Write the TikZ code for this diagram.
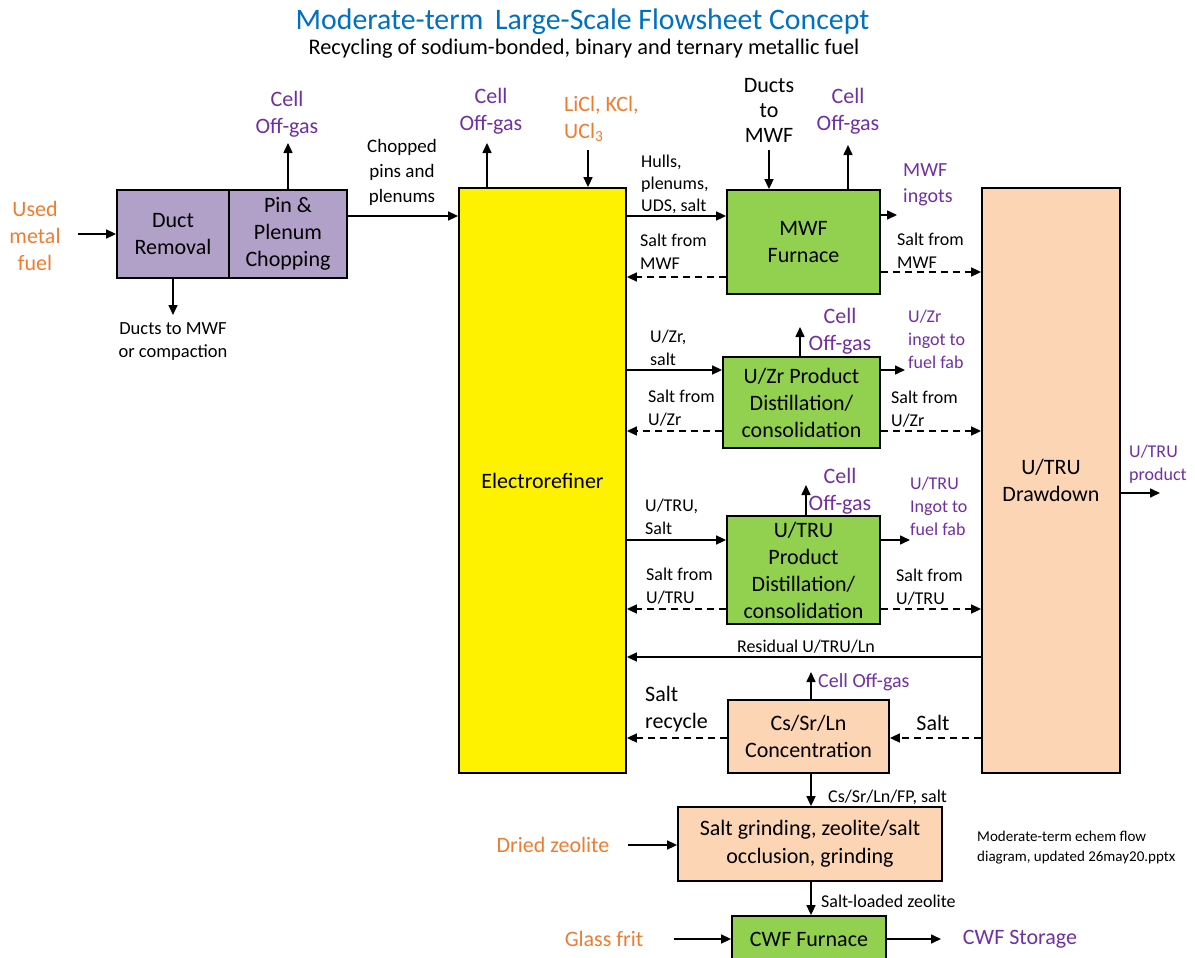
\documentclass[tikz,border=0pt]{standalone}
\usepackage{fontspec}
\setmainfont{Carlito}
\usetikzlibrary{arrows.meta}

\definecolor{ttlblue}{RGB}{0,112,192}
\definecolor{feedorange}{RGB}{237,125,49}
\definecolor{outpurple}{RGB}{112,48,160}
\definecolor{lilac}{RGB}{177,160,199}
\definecolor{leaf}{RGB}{146,208,80}
\definecolor{peach}{RGB}{252,213,180}

\newcommand\szTitle{\fontsize{29.8}{34}\selectfont}
\newcommand\szSub{\fontsize{22.3}{26}\selectfont}
\newcommand\szA{\fontsize{22}{27}\selectfont}
\newcommand\szAt{\fontsize{22}{25}\selectfont}
\newcommand\szP{\fontsize{20}{26}\selectfont}
\newcommand\szB{\fontsize{18}{23}\selectfont}
\newcommand\szNote{\fontsize{15}{20}\selectfont}

\begin{document}
\begin{tikzpicture}[x=1pt,y=-1pt,
  unit/.style={draw=black, line width=1.8pt, align=center, inner sep=0pt, font=\szA},
  flow/.style={line width=1.6pt, -{Triangle[length=10pt,width=9pt]}},
  back/.style={flow, dash pattern=on 7pt off 5pt},
  lbl/.style={align=left, inner sep=0pt, font=\szB},
  infeed/.style={text=feedorange, align=center, inner sep=0pt, font=\szA},
  product/.style={text=outpurple, align=center, inner sep=0pt, font=\szA},
  productsm/.style={text=outpurple, align=left, inner sep=0pt, font=\szB}]

\useasboundingbox (0,0) rectangle (1195,958);

% headings
\node[text=ttlblue, font=\szTitle, inner sep=0pt] (title) at (582.5,22) {Moderate-term\, Large-Scale Flowsheet Concept};
\node[font=\szSub, inner sep=0pt] (subtitle) at (584,49) {Recycling of sodium-bonded, binary and ternary metallic fuel};

% process units
\node[unit, fill=lilac, minimum width=112pt, minimum height=88pt] (duct) at (173,234) {Duct\\Removal};
\node[unit, fill=lilac, minimum width=118pt, minimum height=88pt] (pin) at (288,234) {Pin \&\\Plenum\\Chopping};
\node[unit, fill=yellow, minimum width=167pt, minimum height=585pt] (er) at (542.5,480.5) {Electrorefiner};
\node[unit, fill=leaf, minimum width=153pt, minimum height=104pt] (mwf) at (803.5,242) {MWF\\Furnace};
\node[unit, fill=leaf, minimum width=157pt, minimum height=91pt] (uzr) at (801.5,402.5) {U/Zr Product\\Distillation/\\consolidation};
\node[unit, fill=leaf, minimum width=153pt, minimum height=108pt] (utru) at (803.5,570) {U/TRU\\Product\\Distillation/\\consolidation};
\node[unit, fill=peach, minimum width=138pt, minimum height=585pt] (dd) at (1051,480.5) {U/TRU\\Drawdown};
\node[unit, fill=peach, minimum width=161pt, minimum height=73pt] (cs) at (808.5,736.5) {Cs/Sr/Ln\\Concentration};
\node[unit, fill=peach, minimum width=264pt, minimum height=74pt, font=\fontsize{22}{28}\selectfont] (grind) at (810,844) {Salt grinding, zeolite/salt\\occlusion, grinding};
\node[unit, fill=leaf, minimum width=154pt, minimum height=46pt] (cwf) at (809,939) {CWF Furnace};

% free ends of the streams
\coordinate (fuelin) at (78,234);
\coordinate (og1) at (288,143);
\coordinate (ductsout) at (173,315);
\coordinate (og2) at (487,143);
\coordinate (saltin) at (588,150);
\coordinate (ductin) at (769,150);
\coordinate (og3) at (848,145);
\coordinate (ingot1) at (897,215);
\coordinate (prod) at (1160,493);
\coordinate (og4) at (800,327);
\coordinate (ingot2) at (905,370);
\coordinate (og5) at (806,485);
\coordinate (ingot3) at (910,540);
\coordinate (og6) at (811,672);
\coordinate (zeo) at (628,845);
\coordinate (frit) at (674,939);
\coordinate (stor) at (941,939);

% head-end
\node[infeed] (fuellbl) at (35,236) {Used\\metal\\fuel};
\draw[flow] (fuelin) -- (duct.west);
\draw[flow] (pin.north) -- (og1);
\node[product] (og1lbl) at (287,114) {Cell\\Off-gas};
\draw[flow] (duct.south) -- (ductsout);
\node[lbl, align=center, font=\fontsize{18.5}{23}\selectfont] (ductslbl) at (173,342) {Ducts to MWF\\or compaction};
\draw[flow] (pin.east |- 0,216) -- (er.west |- 0,216);
\node[lbl, align=center, font=\fontsize{19}{25}\selectfont] (choplbl) at (402,172) {Chopped\\pins and\\plenums};

% electrorefiner top
\draw[flow] (er.north -| og2) -- (og2);
\node[product] (og2lbl) at (491,111) {Cell\\Off-gas};
\draw[flow] (saltin) -- (er.north -| saltin);
\node[text=feedorange, font=\szA, align=left, inner sep=0pt, anchor=west] (saltlbl) at (564,119) {LiCl, KCl,\\UCl\textsubscript{3}};

% metal waste furnace
\draw[flow] (ductin) -- (mwf.north -| ductin);
\node[font=\szAt, align=center, inner sep=0pt] (ductinlbl) at (769,110) {Ducts\\to\\MWF};
\draw[flow] (mwf.north -| og3) -- (og3);
\node[product] (og3lbl) at (848,111) {Cell\\Off-gas};
\draw[flow] (er.east |- 0,216) -- (mwf.west |- 0,216);
\node[lbl, anchor=west, font=\fontsize{18}{22}\selectfont] (hullslbl) at (641,184) {Hulls,\\plenums,\\UDS, salt};
\draw[back] (mwf.west |- 0,277) -- (er.east |- 0,277);
\node[lbl, anchor=west] (smwf1) at (640,252) {Salt from\\MWF};
\draw[flow] (mwf.east |- ingot1) -- (ingot1);
\node[product, align=left, anchor=west, font=\szP] (ingot1lbl) at (903,185) {MWF\\ingots};
\draw[back] (mwf.east |- 0,272) -- (dd.west |- 0,272);
\node[lbl, anchor=west] (smwf2) at (897,251) {Salt from\\MWF};

% drawdown product
\draw[flow] (dd.east |- prod) -- (prod);
\node[productsm, anchor=west] (prodlbl) at (1129,464) {U/TRU\\product};

% U/Zr product line
\draw[flow] (uzr.north -| og4) -- (og4);
\node[product] (og4lbl) at (840,331) {Cell\\Off-gas};
\draw[flow] (uzr.east |- ingot2) -- (ingot2);
\node[productsm, anchor=west] (ingot2lbl) at (908,339) {U/Zr\\ingot to\\fuel fab};
\draw[flow] (er.east |- 0,370) -- (uzr.west |- 0,370);
\node[lbl, anchor=west] (uzrin) at (650,348) {U/Zr,\\salt};
\draw[back] (uzr.west |- 0,431) -- (er.east |- 0,431);
\node[lbl, anchor=west] (suzr1) at (648,408) {Salt from\\U/Zr};
\draw[back] (uzr.east |- 0,431) -- (dd.west |- 0,431);
\node[lbl, anchor=west] (suzr2) at (891,409) {Salt from\\U/Zr};

% U/TRU product line
\draw[flow] (utru.north -| og5) -- (og5);
\node[product] (og5lbl) at (840,491) {Cell\\Off-gas};
\draw[flow] (utru.east |- ingot3) -- (ingot3);
\node[productsm, anchor=west] (ingot3lbl) at (910,506) {U/TRU\\Ingot to\\fuel fab};
\draw[flow] (er.east |- 0,540) -- (utru.west |- 0,540);
\node[lbl, anchor=west] (utruin) at (645,517) {U/TRU,\\Salt};
\draw[back] (utru.west |- 0,609) -- (er.east |- 0,609);
\node[lbl, anchor=west] (sutru1) at (646,586) {Salt from\\U/TRU};
\draw[back] (utru.east |- 0,609) -- (dd.west |- 0,609);
\node[lbl, anchor=west] (sutru2) at (896,587) {Salt from\\U/TRU};

% residual return
\draw[flow] (dd.west |- 0,657) -- (er.east |- 0,657);
\node[lbl] (residlbl) at (806,647) {Residual U/TRU/Ln};

% salt treatment
\draw[flow] (cs.north -| og6) -- (og6);
\node[productsm, font=\szP, anchor=west] (og6lbl) at (818,682) {Cell Off-gas};
\draw[back] (dd.west |- 0,738) -- (cs.east |- 0,738);
\node[font=\szA, inner sep=0pt] (saltlbl2) at (933,723) {Salt};
\draw[back] (cs.west |- 0,738) -- (er.east |- 0,738);
\node[font=\szA, align=left, inner sep=0pt, anchor=west] (recyclbl) at (645,709) {Salt\\recycle};
\draw[flow] (cs.south -| og6) -- (grind.north -| og6);
\node[lbl, anchor=west] (fplbl) at (828,797) {Cs/Sr/Ln/FP, salt};
\draw[flow] (zeo) -- (grind.west |- zeo);
\node[infeed] (zeolbl) at (553,845) {Dried zeolite};
\node[font=\szNote, align=left, inner sep=0pt, anchor=west] (note) at (977,848) {Moderate-term echem flow\\diagram, updated 26may20.pptx};
\draw[flow] (grind.south -| og6) -- (cwf.north -| og6);
\node[lbl, anchor=west] (loadlbl) at (821,901) {Salt-loaded zeolite};
\draw[flow] (frit) -- (cwf.west);
\node[infeed] (fritlbl) at (604,939) {Glass frit};
\draw[flow] (cwf.east) -- (stor);
\node[product] (storlbl) at (1020,939) {CWF Storage};

\end{tikzpicture}
\end{document}
